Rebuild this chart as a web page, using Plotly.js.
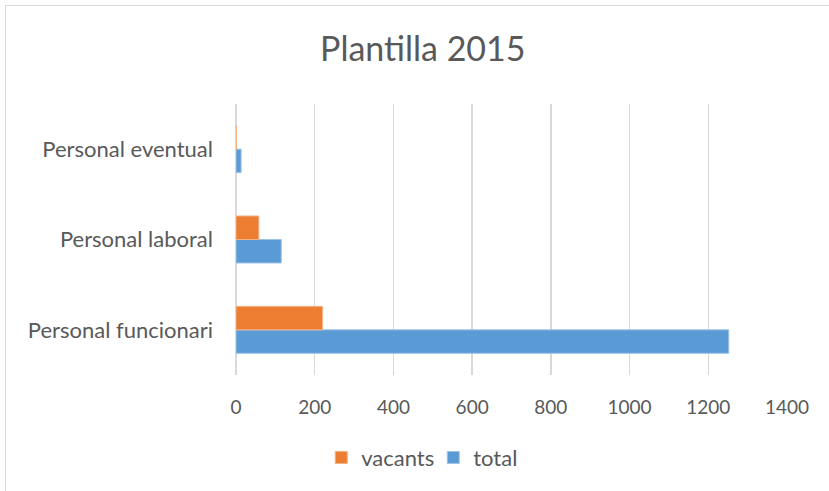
<!DOCTYPE html>
<html>
<head>
<meta charset="utf-8">
<script src="https://cdn.plot.ly/plotly-3.0.1.min.js"></script>
<style>
html,body{margin:0;padding:0;background:#fff;overflow:hidden;}
#chart{position:absolute;left:0;top:0;width:829px;height:491px;}
#frame{position:absolute;left:5px;top:5px;width:900px;height:600px;border:1px solid #d9d9d9;pointer-events:none;}
</style>
</head>
<body>
<div id="chart"></div>
<div id="frame"></div>
<script>
const categories = ["Personal funcionari", "Personal laboral", "Personal eventual"];
const totalValues = [1252, 115, 13];
const vacantsValues = [220, 58, 1];
const xTicks = [0, 200, 400, 600, 800, 1000, 1200, 1400];

const FONT = "Lato, 'Open Sans', sans-serif";
const TXT = "#595959";

const traces = [
  {type: "bar", orientation: "h", name: "total", y: categories, x: totalValues,
   marker: {color: "#5b9bd5", line: {color: "#9dc3e6", width: 1}}, hoverinfo: "x+name"},
  {type: "bar", orientation: "h", name: "vacants", y: categories, x: vacantsValues,
   marker: {color: "#ed7d31", line: {color: "#f4b183", width: 1}}, hoverinfo: "x+name"}
];

const layout = {
  width: 829, height: 491,
  margin: {l: 236, r: 42, t: 104, b: 116},
  paper_bgcolor: "rgba(0,0,0,0)", plot_bgcolor: "#fff",
  font: {family: FONT, color: TXT, size: 18},
  title: {text: "Plantilla 2015", font: {family: FONT, size: 34, color: TXT}, x: 0.51, xanchor: "center", y: 0.9, yanchor: "middle", yref: "container"},
  barmode: "group", bargap: 0.48, bargroupgap: 0,
  showlegend: true,
  legend: {orientation: "h", x: 0.358, xanchor: "center", y: -0.305, yanchor: "middle", traceorder: "reversed",
           font: {family: FONT, size: 22, color: TXT}, itemwidth: 30, entrywidth: 67},
  xaxis: {range: [0, 1400], tickvals: xTicks, ticktext: xTicks.map(String), showgrid: true, gridcolor: "#d9d9d9", gridwidth: 1.5,
          zeroline: true, zerolinecolor: "#d9d9d9", zerolinewidth: 1.5, showline: false, ticks: "", ticklabelstandoff: 19,
          tickfont: {family: FONT, size: 19, color: TXT}, fixedrange: true},
  yaxis: {type: "category", categoryorder: "array", categoryarray: categories, showgrid: false, zeroline: false, showline: false,
          ticks: "", ticklabelstandoff: 22, tickfont: {family: FONT, size: 22, color: TXT}, fixedrange: true}
};

Plotly.newPlot("chart", traces, layout, {displayModeBar: false, staticPlot: true});
</script>
</body>
</html>
